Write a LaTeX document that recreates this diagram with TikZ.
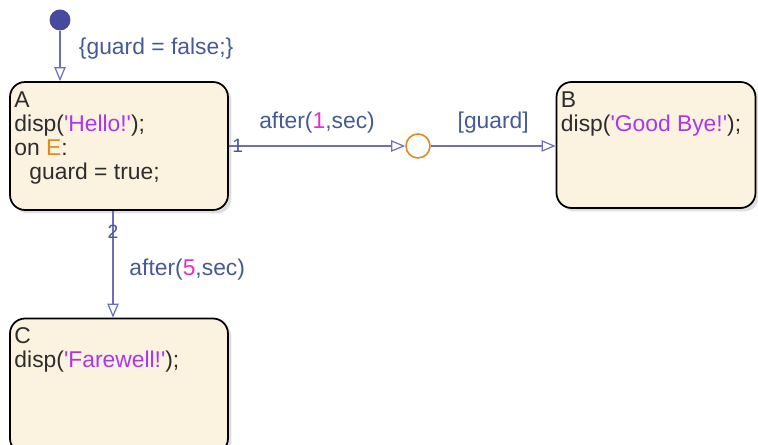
\documentclass[tikz,border=0pt]{standalone}
\usepackage{fontspec}
\setmainfont{Liberation Sans}
\usepackage{xcolor}
\usetikzlibrary{arrows.meta, positioning, shadows}

\definecolor{transcol}{RGB}{110,110,190}
\definecolor{labelcol}{RGB}{70,90,150}
\definecolor{strcol}{RGB}{170,55,235}
\definecolor{numcol}{RGB}{225,50,200}
\definecolor{evcol}{RGB}{220,140,30}
\definecolor{statefill}{RGB}{251,242,224}
\definecolor{textcol}{RGB}{45,45,45}
\definecolor{dotcol}{RGB}{70,75,160}

\newcommand{\q}{\textquotesingle}
\newcommand{\strtxt}[1]{\textcolor{strcol}{\q#1\q}}
\newcommand{\numtxt}[1]{\textcolor{numcol}{#1}}
\newcommand{\evtxt}[1]{\textcolor{evcol}{#1}}

\begin{document}
\begin{tikzpicture}[
  x=0.02cm, y=-0.02cm,
  state/.style={rectangle, draw=black, line width=1pt, rounded corners=0.3cm,
                fill=statefill, drop shadow={shadow xshift=2pt, shadow yshift=-2pt, opacity=0.25}},
  statetext/.style={anchor=north west, align=left, inner sep=0pt, text=textcol,
                    font=\fontsize{13}{13.7}\selectfont},
  trans/.style={draw=transcol, line width=0.7pt, -{Triangle[open, length=8pt, width=6.5pt]}},
  lbl/.style={text=labelcol, font=\fontsize{13}{14}\selectfont},
  prio/.style={text=labelcol, font=\fontsize{11}{12}\selectfont, inner sep=0pt}
]
  \useasboundingbox (0,0) rectangle (758,445);

  % Default transition
  \node[circle, fill=dotcol, minimum size=0.42cm, inner sep=0pt] (init) at (60,20) {};

  % States
  \node[state, minimum width=4.36cm, minimum height=2.56cm] (A) at (119,146) {};
  \node[statetext] (Atext) at ([shift={(0.1cm,-0.2cm)}]A.north west)
    {A\\disp(\strtxt{Hello!});\\on \evtxt{E}:\\\hspace*{0.3cm}guard = true;};

  \node[state, minimum width=3.98cm, minimum height=2.52cm] (B) at (656,145) {};
  \node[statetext] (Btext) at ([shift={(0.1cm,-0.2cm)}]B.north west)
    {B\\disp(\strtxt{Good Bye!});};

  \node[state, minimum width=4.36cm, minimum height=2.7cm] (C) at (119,386) {};
  \node[statetext] (Ctext) at ([shift={(0.1cm,-0.2cm)}]C.north west)
    {C\\disp(\strtxt{Farewell!});};

  % Junction
  \node[circle, draw=evcol, line width=0.9pt, fill=white, minimum size=0.48cm, inner sep=0pt] (J) at (418,146) {};

  % Transitions
  \draw[trans] (init) -- (A.north -| init)
    node[lbl, pos=0.35, right=0.25cm] (guardinit) {\{guard = false;\}};
  \draw[trans] (A.east) -- (J.west)
    node[lbl, midway, above=0.12cm] (after1) {after(\numtxt{1},sec)}
    node[prio, pos=0.05] (p1) {1};
  \draw[trans] (J.east) -- (B.west |- J)
    node[lbl, midway, above=0.12cm] (guardcond) {[guard]};
  \draw[trans] ([xshift=-0.12cm]A.south) -- ([xshift=-0.12cm]C.north)
    node[prio, pos=0.2] (p2) {2}
    node[lbl, pos=0.55, right=0.2cm] (after5) {after(\numtxt{5},sec)};
\end{tikzpicture}
\end{document}
